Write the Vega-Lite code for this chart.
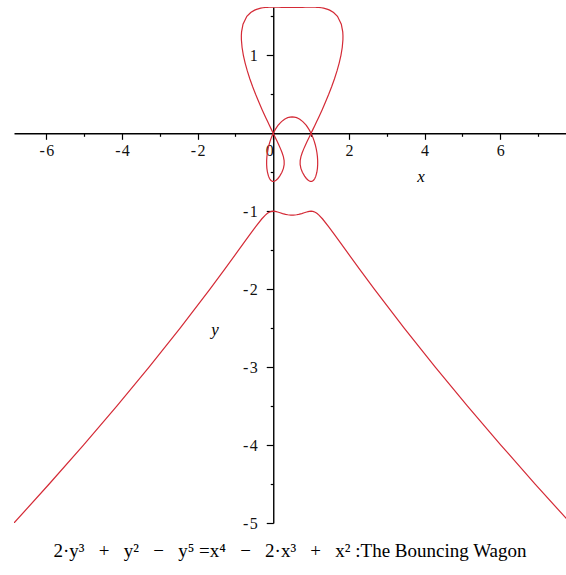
{
  "$schema": "https://vega.github.io/schema/vega-lite/v6.json",
  "width": 552,
  "height": 516,
  "autosize": "none",
  "padding": {"left": 14, "top": 7, "right": 0, "bottom": 52},
  "background": "white",
  "config": {"view": {"stroke": null}},
  "title": {
    "text": "2·y³\u2002 +\u2002 y²\u2002 −\u2002 y⁵\u2005=x⁴\u2002 −\u2002 2·x³\u2002 +\u2002 x² :The Bouncing Wagon",
    "orient": "bottom",
    "anchor": "middle",
    "font": "Liberation Serif",
    "fontSize": 19,
    "fontWeight": "normal",
    "color": "black",
    "offset": 11
  },
  "layer": [
    {
      "data": {"values": [
        {"s":"loop","i":0,"x":0,"y":0},
        {"s":"loop","i":1,"x":-0.0499,"y":0.05},
        {"s":"loop","i":2,"x":-0.0996,"y":0.1},
        {"s":"loop","i":3,"x":-0.1487,"y":0.15},
        {"s":"loop","i":4,"x":-0.1971,"y":0.2},
        {"s":"loop","i":5,"x":-0.2914,"y":0.3},
        {"s":"loop","i":6,"x":-0.3815,"y":0.4},
        {"s":"loop","i":7,"x":-0.4668,"y":0.5},
        {"s":"loop","i":8,"x":-0.5465,"y":0.6},
        {"s":"loop","i":9,"x":-0.6198,"y":0.7},
        {"s":"loop","i":10,"x":-0.6858,"y":0.8},
        {"s":"loop","i":11,"x":-0.7431,"y":0.9},
        {"s":"loop","i":12,"x":-0.7901,"y":1.0},
        {"s":"loop","i":13,"x":-0.8243,"y":1.1},
        {"s":"loop","i":14,"x":-0.8423,"y":1.2},
        {"s":"loop","i":15,"x":-0.8434,"y":1.25},
        {"s":"loop","i":16,"x":-0.8379,"y":1.3},
        {"s":"loop","i":17,"x":-0.7995,"y":1.4},
        {"s":"loop","i":18,"x":-0.6983,"y":1.5},
        {"s":"loop","i":19,"x":-0.5957,"y":1.55},
        {"s":"loop","i":20,"x":-0.4919,"y":1.58},
        {"s":"loop","i":21,"x":-0.4416,"y":1.59},
        {"s":"loop","i":22,"x":-0.3752,"y":1.6},
        {"s":"loop","i":23,"x":-0.3312,"y":1.605},
        {"s":"loop","i":24,"x":-0.2733,"y":1.61},
        {"s":"loop","i":25,"x":-0.2054,"y":1.614},
        {"s":"loop","i":26,"x":-0.1819,"y":1.615},
        {"s":"loop","i":27,"x":-0.1528,"y":1.616},
        {"s":"loop","i":28,"x":-0.1130,"y":1.617},
        {"s":"loop","i":29,"x":-0.0223,"y":1.618},
        {"s":"loop","i":30,"x":0,"y":1.618},
        {"s":"loop","i":31,"x":0.0233,"y":1.618},
        {"s":"loop","i":32,"x":0.1475,"y":1.617},
        {"s":"loop","i":33,"x":0.2283,"y":1.616},
        {"s":"loop","i":34,"x":0.3128,"y":1.615},
        {"s":"loop","i":35,"x":0.4512,"y":1.614},
        {"s":"loop","i":36,"x":0.5,"y":1.6139},
        {"s":"loop","i":37,"x":0.5488,"y":1.614},
        {"s":"loop","i":38,"x":0.6872,"y":1.615},
        {"s":"loop","i":39,"x":0.7717,"y":1.616},
        {"s":"loop","i":40,"x":0.8525,"y":1.617},
        {"s":"loop","i":41,"x":0.9767,"y":1.618},
        {"s":"loop","i":42,"x":1,"y":1.618},
        {"s":"loop","i":43,"x":1.0223,"y":1.618},
        {"s":"loop","i":44,"x":1.1130,"y":1.617},
        {"s":"loop","i":45,"x":1.1528,"y":1.616},
        {"s":"loop","i":46,"x":1.1819,"y":1.615},
        {"s":"loop","i":47,"x":1.2054,"y":1.614},
        {"s":"loop","i":48,"x":1.2733,"y":1.61},
        {"s":"loop","i":49,"x":1.3312,"y":1.605},
        {"s":"loop","i":50,"x":1.3752,"y":1.6},
        {"s":"loop","i":51,"x":1.4416,"y":1.59},
        {"s":"loop","i":52,"x":1.4919,"y":1.58},
        {"s":"loop","i":53,"x":1.5957,"y":1.55},
        {"s":"loop","i":54,"x":1.6983,"y":1.5},
        {"s":"loop","i":55,"x":1.7995,"y":1.4},
        {"s":"loop","i":56,"x":1.8379,"y":1.3},
        {"s":"loop","i":57,"x":1.8434,"y":1.25},
        {"s":"loop","i":58,"x":1.8423,"y":1.2},
        {"s":"loop","i":59,"x":1.8243,"y":1.1},
        {"s":"loop","i":60,"x":1.7901,"y":1.0},
        {"s":"loop","i":61,"x":1.7431,"y":0.9},
        {"s":"loop","i":62,"x":1.6858,"y":0.8},
        {"s":"loop","i":63,"x":1.6198,"y":0.7},
        {"s":"loop","i":64,"x":1.5465,"y":0.6},
        {"s":"loop","i":65,"x":1.4668,"y":0.5},
        {"s":"loop","i":66,"x":1.3815,"y":0.4},
        {"s":"loop","i":67,"x":1.2914,"y":0.3},
        {"s":"loop","i":68,"x":1.1971,"y":0.2},
        {"s":"loop","i":69,"x":1.1487,"y":0.15},
        {"s":"loop","i":70,"x":1.0996,"y":0.1},
        {"s":"loop","i":71,"x":1.0499,"y":0.05},
        {"s":"loop","i":72,"x":1,"y":0},

        {"s":"arch","i":0,"x":0,"y":0},
        {"s":"arch","i":1,"x":0.0555,"y":0.05},
        {"s":"arch","i":2,"x":0.1252,"y":0.1},
        {"s":"arch","i":3,"x":0.1678,"y":0.125},
        {"s":"arch","i":4,"x":0.2186,"y":0.15},
        {"s":"arch","i":5,"x":0.2987,"y":0.18},
        {"s":"arch","i":6,"x":0.3346,"y":0.19},
        {"s":"arch","i":7,"x":0.3816,"y":0.2},
        {"s":"arch","i":8,"x":0.4144,"y":0.205},
        {"s":"arch","i":9,"x":0.4428,"y":0.208},
        {"s":"arch","i":10,"x":0.5,"y":0.2104},
        {"s":"arch","i":11,"x":0.5572,"y":0.208},
        {"s":"arch","i":12,"x":0.5856,"y":0.205},
        {"s":"arch","i":13,"x":0.6184,"y":0.2},
        {"s":"arch","i":14,"x":0.6654,"y":0.19},
        {"s":"arch","i":15,"x":0.7013,"y":0.18},
        {"s":"arch","i":16,"x":0.7814,"y":0.15},
        {"s":"arch","i":17,"x":0.8322,"y":0.125},
        {"s":"arch","i":18,"x":0.8748,"y":0.1},
        {"s":"arch","i":19,"x":0.9445,"y":0.05},
        {"s":"arch","i":20,"x":1,"y":0},

        {"s":"lobeL","i":0,"x":0,"y":0},
        {"s":"lobeL","i":1,"x":-0.0454,"y":-0.05},
        {"s":"lobeL","i":2,"x":-0.0827,"y":-0.1},
        {"s":"lobeL","i":3,"x":-0.1130,"y":-0.15},
        {"s":"lobeL","i":4,"x":-0.1371,"y":-0.2},
        {"s":"lobeL","i":5,"x":-0.1554,"y":-0.25},
        {"s":"lobeL","i":6,"x":-0.1679,"y":-0.3},
        {"s":"lobeL","i":7,"x":-0.1745,"y":-0.35},
        {"s":"lobeL","i":8,"x":-0.1749,"y":-0.4},
        {"s":"lobeL","i":9,"x":-0.1684,"y":-0.45},
        {"s":"lobeL","i":10,"x":-0.1533,"y":-0.5},
        {"s":"lobeL","i":11,"x":-0.1259,"y":-0.55},
        {"s":"lobeL","i":12,"x":-0.0989,"y":-0.58},
        {"s":"lobeL","i":13,"x":-0.0709,"y":-0.6},
        {"s":"lobeL","i":14,"x":-0.0486,"y":-0.61},
        {"s":"lobeL","i":15,"x":-0.0304,"y":-0.615},
        {"s":"lobeL","i":16,"x":-0.0180,"y":-0.617},
        {"s":"lobeL","i":17,"x":0,"y":-0.618},
        {"s":"lobeL","i":18,"x":0.0187,"y":-0.617},
        {"s":"lobeL","i":19,"x":0.0323,"y":-0.615},
        {"s":"lobeL","i":20,"x":0.0539,"y":-0.61},
        {"s":"lobeL","i":21,"x":0.0827,"y":-0.6},
        {"s":"lobeL","i":22,"x":0.1241,"y":-0.58},
        {"s":"lobeL","i":23,"x":0.1709,"y":-0.55},
        {"s":"lobeL","i":24,"x":0.2294,"y":-0.5},
        {"s":"lobeL","i":25,"x":0.2692,"y":-0.45},
        {"s":"lobeL","i":26,"x":0.2891,"y":-0.4},
        {"s":"lobeL","i":27,"x":0.2877,"y":-0.35},
        {"s":"lobeL","i":28,"x":0.2677,"y":-0.3},
        {"s":"lobeL","i":29,"x":0.2345,"y":-0.25},
        {"s":"lobeL","i":30,"x":0.1933,"y":-0.2},
        {"s":"lobeL","i":31,"x":0.1476,"y":-0.15},
        {"s":"lobeL","i":32,"x":0.0994,"y":-0.1},
        {"s":"lobeL","i":33,"x":0.0499,"y":-0.05},
        {"s":"lobeL","i":34,"x":0,"y":0},

        {"s":"lobeR","i":0,"x":1,"y":0},
        {"s":"lobeR","i":1,"x":1.0454,"y":-0.05},
        {"s":"lobeR","i":2,"x":1.0827,"y":-0.1},
        {"s":"lobeR","i":3,"x":1.1130,"y":-0.15},
        {"s":"lobeR","i":4,"x":1.1371,"y":-0.2},
        {"s":"lobeR","i":5,"x":1.1554,"y":-0.25},
        {"s":"lobeR","i":6,"x":1.1679,"y":-0.3},
        {"s":"lobeR","i":7,"x":1.1745,"y":-0.35},
        {"s":"lobeR","i":8,"x":1.1749,"y":-0.4},
        {"s":"lobeR","i":9,"x":1.1684,"y":-0.45},
        {"s":"lobeR","i":10,"x":1.1533,"y":-0.5},
        {"s":"lobeR","i":11,"x":1.1259,"y":-0.55},
        {"s":"lobeR","i":12,"x":1.0989,"y":-0.58},
        {"s":"lobeR","i":13,"x":1.0709,"y":-0.6},
        {"s":"lobeR","i":14,"x":1.0486,"y":-0.61},
        {"s":"lobeR","i":15,"x":1.0304,"y":-0.615},
        {"s":"lobeR","i":16,"x":1.0180,"y":-0.617},
        {"s":"lobeR","i":17,"x":1,"y":-0.618},
        {"s":"lobeR","i":18,"x":0.9813,"y":-0.617},
        {"s":"lobeR","i":19,"x":0.9677,"y":-0.615},
        {"s":"lobeR","i":20,"x":0.9461,"y":-0.61},
        {"s":"lobeR","i":21,"x":0.9173,"y":-0.6},
        {"s":"lobeR","i":22,"x":0.8759,"y":-0.58},
        {"s":"lobeR","i":23,"x":0.8291,"y":-0.55},
        {"s":"lobeR","i":24,"x":0.7706,"y":-0.5},
        {"s":"lobeR","i":25,"x":0.7308,"y":-0.45},
        {"s":"lobeR","i":26,"x":0.7109,"y":-0.4},
        {"s":"lobeR","i":27,"x":0.7123,"y":-0.35},
        {"s":"lobeR","i":28,"x":0.7323,"y":-0.3},
        {"s":"lobeR","i":29,"x":0.7655,"y":-0.25},
        {"s":"lobeR","i":30,"x":0.8067,"y":-0.2},
        {"s":"lobeR","i":31,"x":0.8524,"y":-0.15},
        {"s":"lobeR","i":32,"x":0.9006,"y":-0.1},
        {"s":"lobeR","i":33,"x":0.9501,"y":-0.05},
        {"s":"lobeR","i":34,"x":1,"y":0},

        {"s":"base","i":0,"x":-6.8554,"y":-5},
        {"s":"base","i":1,"x":-5.9248,"y":-4.5},
        {"s":"base","i":2,"x":-5.0181,"y":-4},
        {"s":"base","i":3,"x":-4.1372,"y":-3.5},
        {"s":"base","i":4,"x":-3.2844,"y":-3},
        {"s":"base","i":5,"x":-2.4621,"y":-2.5},
        {"s":"base","i":6,"x":-1.6731,"y":-2},
        {"s":"base","i":7,"x":-1.2914,"y":-1.75},
        {"s":"base","i":8,"x":-0.9174,"y":-1.5},
        {"s":"base","i":9,"x":-0.7690,"y":-1.4},
        {"s":"base","i":10,"x":-0.6200,"y":-1.3},
        {"s":"base","i":11,"x":-0.4681,"y":-1.2},
        {"s":"base","i":12,"x":-0.3051,"y":-1.1},
        {"s":"base","i":13,"x":-0.2086,"y":-1.05},
        {"s":"base","i":14,"x":-0.1606,"y":-1.03},
        {"s":"base","i":15,"x":-0.1313,"y":-1.02},
        {"s":"base","i":16,"x":-0.0937,"y":-1.01},
        {"s":"base","i":17,"x":-0.0671,"y":-1.005},
        {"s":"base","i":18,"x":-0.0429,"y":-1.002},
        {"s":"base","i":19,"x":0,"y":-1},
        {"s":"base","i":20,"x":0.0469,"y":-1.002},
        {"s":"base","i":21,"x":0.0776,"y":-1.005},
        {"s":"base","i":22,"x":0.1160,"y":-1.01},
        {"s":"base","i":23,"x":0.1815,"y":-1.02},
        {"s":"base","i":24,"x":0.2477,"y":-1.03},
        {"s":"base","i":25,"x":0.3276,"y":-1.04},
        {"s":"base","i":26,"x":0.3833,"y":-1.045},
        {"s":"base","i":27,"x":0.4676,"y":-1.049},
        {"s":"base","i":28,"x":0.5,"y":-1.0493},
        {"s":"base","i":29,"x":0.5324,"y":-1.049},
        {"s":"base","i":30,"x":0.6167,"y":-1.045},
        {"s":"base","i":31,"x":0.6724,"y":-1.04},
        {"s":"base","i":32,"x":0.7523,"y":-1.03},
        {"s":"base","i":33,"x":0.8185,"y":-1.02},
        {"s":"base","i":34,"x":0.8840,"y":-1.01},
        {"s":"base","i":35,"x":0.9224,"y":-1.005},
        {"s":"base","i":36,"x":0.9531,"y":-1.002},
        {"s":"base","i":37,"x":1,"y":-1},
        {"s":"base","i":38,"x":1.0429,"y":-1.002},
        {"s":"base","i":39,"x":1.0671,"y":-1.005},
        {"s":"base","i":40,"x":1.0937,"y":-1.01},
        {"s":"base","i":41,"x":1.1313,"y":-1.02},
        {"s":"base","i":42,"x":1.1606,"y":-1.03},
        {"s":"base","i":43,"x":1.2086,"y":-1.05},
        {"s":"base","i":44,"x":1.3051,"y":-1.1},
        {"s":"base","i":45,"x":1.4681,"y":-1.2},
        {"s":"base","i":46,"x":1.6200,"y":-1.3},
        {"s":"base","i":47,"x":1.7690,"y":-1.4},
        {"s":"base","i":48,"x":1.9174,"y":-1.5},
        {"s":"base","i":49,"x":2.2914,"y":-1.75},
        {"s":"base","i":50,"x":2.6731,"y":-2},
        {"s":"base","i":51,"x":3.4621,"y":-2.5},
        {"s":"base","i":52,"x":4.2844,"y":-3},
        {"s":"base","i":53,"x":5.1372,"y":-3.5},
        {"s":"base","i":54,"x":6.0181,"y":-4},
        {"s":"base","i":55,"x":6.9248,"y":-4.5},
        {"s":"base","i":56,"x":7.8554,"y":-5}
      ]},
      "mark": {"type": "line", "color": "#d42a36", "strokeWidth": 1.2, "clip": true},
      "encoding": {
        "x": {
          "field": "x", "type": "quantitative",
          "scale": {"domain": [-6.855, 7.741], "nice": false, "zero": false},
          "axis": {
            "orient": "bottom",
            "offset": -389.7,
            "values": [-6, -5, -4, -3, -2, -1, 0, 1, 2, 3, 4, 5, 6, 7],
            "labelExpr": "datum.value % 2 != 0 ? '' : (datum.value < 0 ? '-\u200a' + abs(datum.value) : '' + datum.value)",
            "tickSize": {"condition": {"test": "datum.value % 2 != 0", "value": 3}, "value": 6},
            "labelAlign": {"condition": {"test": "datum.value == 0", "value": "right"}, "value": "center"},
            "grid": false,
            "title": null,
            "domainColor": "black",
            "domainWidth": 1.4,
            "tickColor": "black",
            "tickWidth": 1.2,
            "labelFont": "Liberation Serif",
            "labelFontSize": 16,
            "labelColor": "#111111",
            "labelPadding": 3,
            "labelOverlap": false,
            "labelFlush": false
          }
        },
        "y": {
          "field": "y", "type": "quantitative",
          "scale": {"domain": [-5, 1.62], "nice": false, "zero": false},
          "axis": {
            "orient": "left",
            "offset": -259.25,
            "values": [-5, -4.5, -4, -3.5, -3, -2.5, -2, -1.5, -1, -0.5, 0.5, 1, 1.5],
            "labelExpr": "datum.value % 1 != 0 ? '' : (datum.value < 0 ? '-\u200a' + abs(datum.value) : '' + datum.value)",
            "tickSize": {"condition": {"test": "datum.value % 1 != 0", "value": 3}, "value": 7},
            "grid": false,
            "title": null,
            "domainColor": "black",
            "domainWidth": 1.4,
            "tickColor": "black",
            "tickWidth": 1.2,
            "labelFont": "Liberation Serif",
            "labelFontSize": 16,
            "labelColor": "#111111",
            "labelPadding": 9,
            "labelOverlap": false,
            "labelFlush": false
          }
        },
        "detail": {"field": "s"},
        "order": {"field": "i", "type": "quantitative"}
      }
    },
    {
      "data": {"values": [
        {"x": 3.905, "y": -0.562, "t": "x"},
        {"x": -1.542, "y": -2.524, "t": "y"}
      ]},
      "mark": {"type": "text", "font": "Liberation Serif", "fontStyle": "italic", "fontSize": 17, "color": "black"},
      "encoding": {
        "x": {"field": "x", "type": "quantitative"},
        "y": {"field": "y", "type": "quantitative"},
        "text": {"field": "t"}
      }
    }
  ]
}
